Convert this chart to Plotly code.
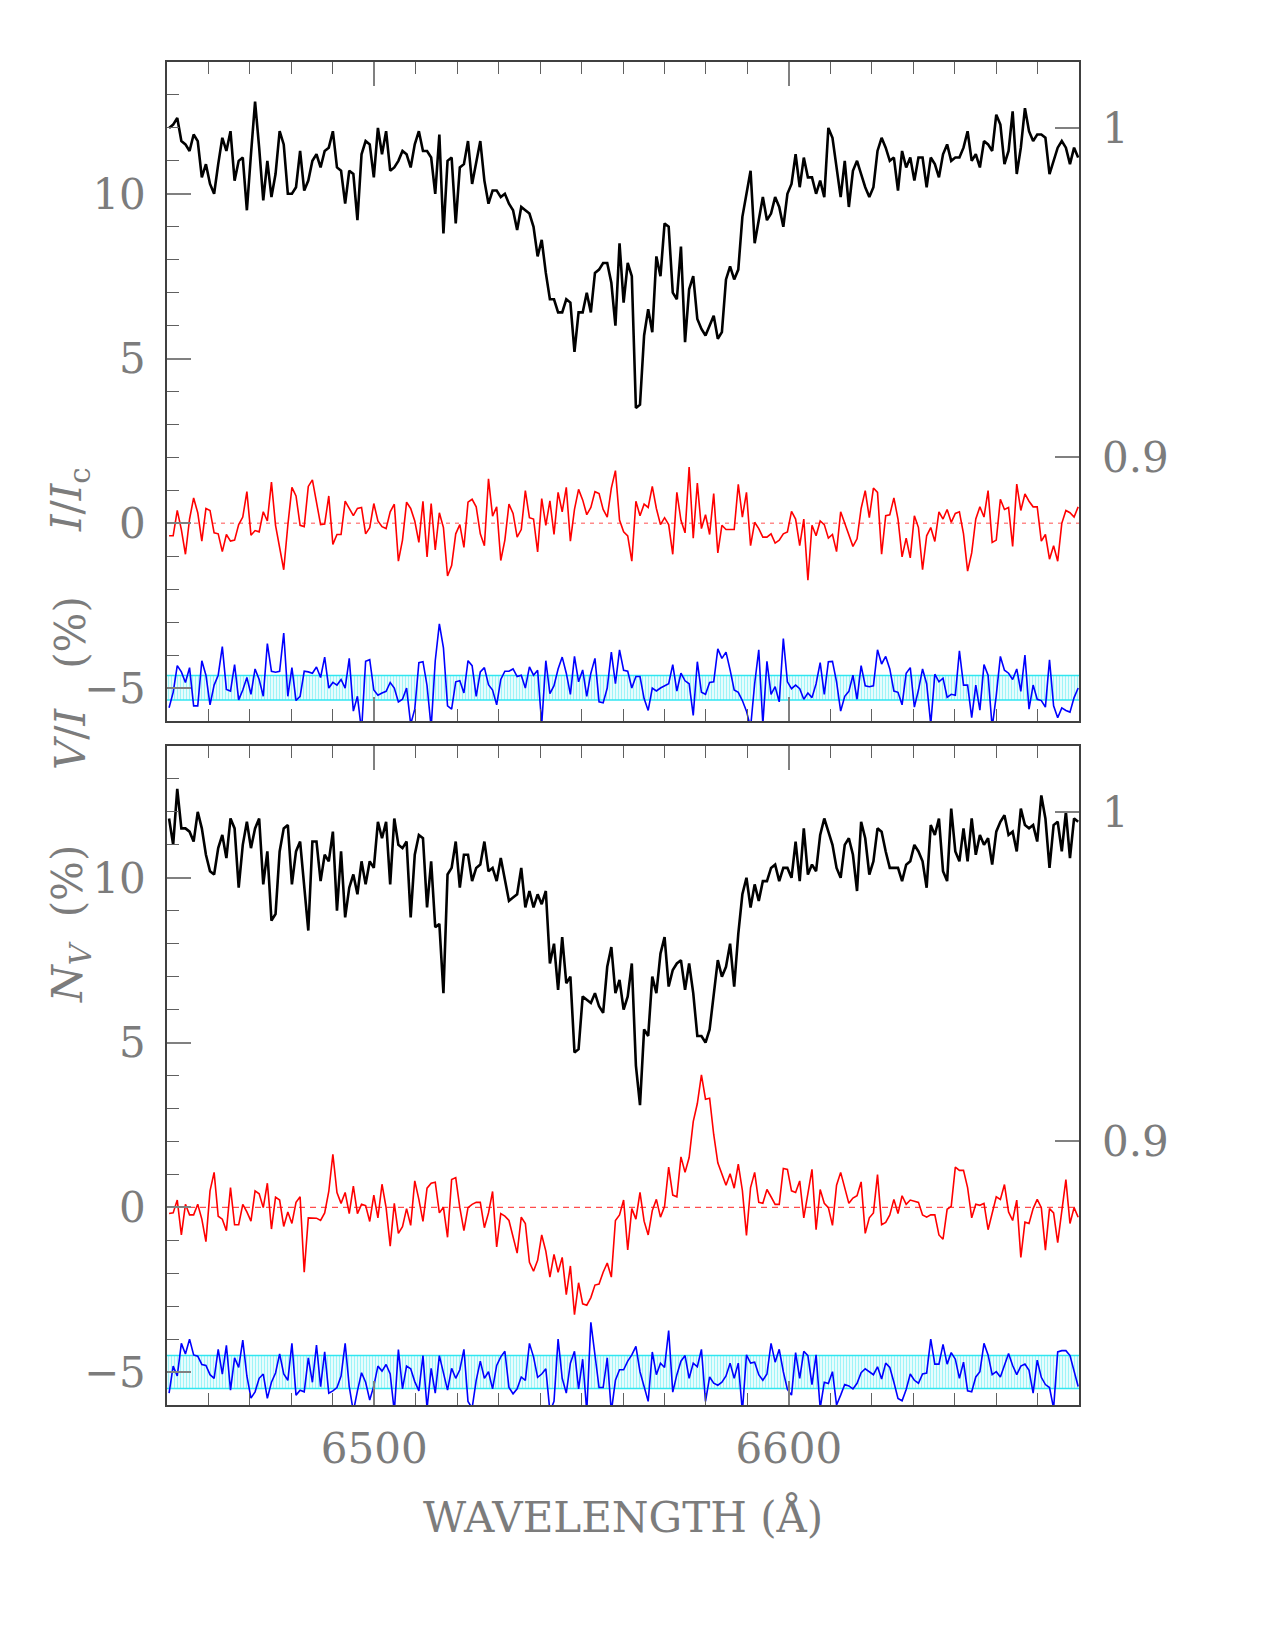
import numpy as np
import plotly.graph_objects as go

# ---------------- data ----------------
N_PIX = 223
WAVE = np.linspace(6450.5, 6669.8, N_PIX)          # wavelength grid (Angstrom)
X_RANGE = [6450, 6670]
BAND_X = [6450, 6670]

# Top panel (observation 1)
I_IC_TOP = [
    1.000, 1.001, 1.003, 0.996, 0.995, 0.993, 0.998, 0.996, 0.985, 0.989,
    0.983, 0.980, 0.989, 0.997, 0.993, 0.999, 0.984, 0.990, 0.991, 0.975,
    0.992, 1.008, 0.994, 0.978, 0.990, 0.979, 0.986, 0.999, 0.995, 0.980,
    0.980, 0.982, 0.993, 0.981, 0.984, 0.990, 0.992, 0.988, 0.993, 0.994,
    0.999, 0.988, 0.987, 0.977, 0.987, 0.986, 0.972, 0.992, 0.996, 0.995,
    0.985, 1.000, 0.992, 0.999, 0.987, 0.988, 0.990, 0.993, 0.992, 0.988,
    0.995, 0.999, 0.993, 0.993, 0.991, 0.980, 0.998, 0.968, 0.990, 0.991,
    0.971, 0.988, 0.989, 0.996, 0.983, 0.990, 0.996, 0.984, 0.977, 0.981,
    0.981, 0.979, 0.980, 0.977, 0.975, 0.969, 0.976, 0.975, 0.974, 0.970,
    0.961, 0.966, 0.956, 0.948, 0.948, 0.944, 0.944, 0.948, 0.947, 0.932,
    0.944, 0.944, 0.950, 0.944, 0.956, 0.957, 0.959, 0.959, 0.953, 0.940,
    0.965, 0.947, 0.959, 0.955, 0.915, 0.916, 0.937, 0.945, 0.938, 0.961,
    0.955, 0.971, 0.970, 0.950, 0.948, 0.964, 0.935, 0.951, 0.955, 0.942,
    0.939, 0.937, 0.940, 0.943, 0.936, 0.938, 0.954, 0.958, 0.954, 0.957,
    0.973, 0.980, 0.987, 0.965, 0.972, 0.979, 0.972, 0.974, 0.979, 0.976,
    0.970, 0.980, 0.983, 0.992, 0.982, 0.991, 0.985, 0.985, 0.980, 0.984,
    0.979, 1.000, 0.997, 0.988, 0.979, 0.990, 0.976, 0.987, 0.990, 0.986,
    0.982, 0.979, 0.982, 0.993, 0.997, 0.994, 0.990, 0.991, 0.981, 0.993,
    0.988, 0.991, 0.984, 0.991, 0.991, 0.982, 0.991, 0.989, 0.985, 0.992,
    0.995, 0.990, 0.991, 0.991, 0.994, 0.999, 0.990, 0.992, 0.988, 0.996,
    0.995, 0.993, 1.004, 1.001, 0.989, 0.993, 1.005, 0.986, 0.994, 1.006,
    0.999, 0.996, 0.998, 0.998, 0.997, 0.986, 0.990, 0.994, 0.996, 0.994,
    0.989, 0.994, 0.991,
]
V_TOP = [
    -0.38, -0.38, 0.39, -0.19, -0.94, 0.13, 0.77, 0.32, -0.54, 0.45,
    0.39, -0.29, -0.32, -0.86, -0.34, -0.54, -0.51, -0.04, 0.19, 0.96,
    -0.36, -0.22, -0.26, 0.35, 0.07, 1.25, -0.06, -0.70, -1.41, -0.06,
    1.09, 0.83, -0.06, -0.10, 1.12, 1.32, 0.58, -0.04, -0.02, 0.83,
    -0.64, -0.34, -0.34, 0.67, 0.45, 0.23, 0.45, 0.48, -0.32, -0.13,
    0.60, 0.07, -0.10, -0.16, 0.35, 0.58, -1.15, -0.51, 0.64, 0.45,
    0.07, -0.58, 0.67, -1.02, 0.60, -0.81, 0.32, -0.13, -1.60, -1.28,
    -0.32, -0.04, -0.73, 0.64, 0.73, 0.50, -0.32, -0.68, 1.35, 0.22,
    0.50, -1.13, -0.51, 0.58, 0.30, -0.42, -0.19, 0.99, 0.17, 0.13,
    -0.87, 0.75, -0.06, 0.68, -0.34, 0.94, 0.35, 1.09, -0.54, 0.42,
    1.03, 0.71, 0.26, 0.48, 0.96, 0.90, 0.42, 0.19, 1.07, 1.60,
    0.10, -0.26, -0.38, -1.15, 0.67, 0.23, 0.58, 0.48, 1.12, 0.45,
    -0.04, 0.17, -0.04, -0.94, 0.94, 0.09, -0.29, 1.71, -0.45, 1.22,
    -0.16, 0.26, -0.34, 0.90, -0.90, -0.06, -0.19, -0.19, -0.19, 1.18,
    0.19, 0.94, -0.68, 0.03, -0.16, -0.42, -0.42, -0.32, -0.60, -0.51,
    -0.32, -0.26, 0.36, 0.13, -0.68, 0.13, -1.73, -0.06, -0.38, 0.07,
    -0.04, -0.45, -0.34, -0.86, 0.35, 0.00, -0.36, -0.70, -0.47, 0.45,
    0.99, 0.17, 1.07, 0.94, -0.94, 0.23, 0.26, 0.77, 0.13, -1.02,
    -0.45, -1.05, 0.23, -0.13, -1.41, -0.38, -0.13, -0.55, 0.35, 0.13,
    0.42, 0.03, 0.30, 0.35, -0.32, -1.45, -0.90, 0.13, 0.50, 0.19,
    0.99, -0.58, -0.51, 0.73, 0.42, 0.48, -0.70, 1.19, 0.39, 0.89,
    0.67, 0.50, 0.50, -0.54, -0.34, -1.09, -0.68, -1.15, 0.00, 0.39,
    0.32, 0.19, 0.50,
]
N_TOP = [
    -5.60, -5.13, -4.32, -4.51, -4.83, -4.38, -5.54, -5.54, -4.17, -4.61,
    -5.51, -4.91, -4.61, -3.74, -5.04, -5.09, -4.29, -5.36, -5.06, -4.68,
    -5.19, -4.42, -4.74, -5.25, -3.65, -4.49, -4.52, -4.49, -3.33, -5.25,
    -4.38, -5.38, -5.25, -4.49, -4.51, -4.55, -4.36, -4.68, -4.06, -5.00,
    -4.83, -4.91, -4.74, -5.00, -4.10, -5.70, -5.25, -6.30, -4.19, -4.14,
    -5.06, -5.22, -5.15, -5.10, -4.83, -5.00, -5.42, -5.34, -5.00, -6.10,
    -5.64, -4.23, -4.20, -4.93, -6.20, -4.17, -3.05, -3.78, -5.54, -5.64,
    -4.81, -4.78, -5.15, -4.17, -4.32, -5.25, -4.51, -4.38, -4.90, -5.06,
    -5.51, -4.74, -4.49, -4.49, -4.42, -4.65, -4.61, -5.00, -4.36, -4.61,
    -4.46, -6.10, -4.17, -5.17, -4.93, -4.42, -4.06, -4.55, -5.19, -4.04,
    -4.81, -4.45, -5.25, -4.55, -4.10, -5.42, -5.45, -5.00, -3.91, -4.87,
    -3.84, -4.46, -4.49, -5.00, -4.65, -4.65, -5.32, -5.68, -5.00, -5.09,
    -5.00, -4.93, -4.87, -4.29, -5.09, -4.55, -4.78, -4.87, -5.83, -4.20,
    -5.13, -5.19, -4.83, -4.81, -3.81, -4.10, -3.91, -4.45, -5.06, -5.13,
    -5.38, -5.70, -6.20, -4.87, -3.84, -6.10, -4.19, -5.19, -4.96, -5.42,
    -3.50, -4.81, -5.02, -4.91, -5.02, -5.34, -5.15, -5.29, -4.87, -4.23,
    -5.19, -4.20, -4.19, -4.81, -5.70, -5.25, -5.10, -4.61, -5.34, -4.32,
    -4.93, -4.96, -4.93, -3.84, -4.27, -4.04, -4.42, -5.09, -5.13, -5.51,
    -4.55, -4.38, -5.58, -5.06, -4.42, -4.87, -6.10, -4.58, -4.81, -4.70,
    -5.28, -5.19, -5.22, -3.87, -4.91, -4.91, -5.90, -4.91, -5.67, -4.29,
    -4.61, -6.20, -5.22, -4.04, -4.46, -4.55, -4.74, -4.42, -5.10, -4.00,
    -5.64, -4.91, -5.34, -5.38, -5.58, -4.14, -5.54, -5.90, -5.60, -5.68,
    -5.73, -5.29, -5.00,
]

# Bottom panel (observation 2)
I_IC_BOT = [
    0.998, 0.990, 1.007, 0.995, 0.995, 0.994, 0.991, 1.000, 0.995, 0.987,
    0.982, 0.981, 0.989, 0.993, 0.986, 0.998, 0.995, 0.977, 0.990, 0.997,
    0.989, 0.995, 0.998, 0.978, 0.988, 0.967, 0.969, 0.988, 0.995, 0.996,
    0.978, 0.988, 0.991, 0.977, 0.964, 0.991, 0.991, 0.979, 0.987, 0.985,
    0.994, 0.970, 0.988, 0.968, 0.977, 0.981, 0.975, 0.985, 0.978, 0.985,
    0.983, 0.997, 0.992, 0.997, 0.978, 0.998, 0.990, 0.989, 0.991, 0.968,
    0.987, 0.993, 0.992, 0.971, 0.985, 0.965, 0.966, 0.945, 0.981, 0.983,
    0.991, 0.977, 0.987, 0.987, 0.979, 0.983, 0.984, 0.991, 0.982, 0.983,
    0.979, 0.986, 0.979, 0.973, 0.974, 0.975, 0.983, 0.971, 0.976, 0.971,
    0.975, 0.972, 0.976, 0.954, 0.960, 0.946, 0.962, 0.948, 0.950, 0.927,
    0.928, 0.944, 0.943, 0.942, 0.945, 0.941, 0.939, 0.953, 0.959, 0.945,
    0.949, 0.940, 0.944, 0.954, 0.923, 0.911, 0.934, 0.932, 0.950, 0.945,
    0.957, 0.962, 0.947, 0.952, 0.954, 0.955, 0.946, 0.954, 0.945, 0.932,
    0.932, 0.930, 0.934, 0.945, 0.955, 0.950, 0.953, 0.960, 0.947, 0.963,
    0.975, 0.980, 0.971, 0.978, 0.973, 0.979, 0.979, 0.983, 0.984, 0.979,
    0.983, 0.983, 0.980, 0.991, 0.979, 0.995, 0.981, 0.984, 0.982, 0.993,
    0.998, 0.994, 0.990, 0.983, 0.980, 0.990, 0.992, 0.987, 0.976, 0.997,
    0.992, 0.981, 0.985, 0.995, 0.994, 0.988, 0.983, 0.983, 0.983, 0.979,
    0.984, 0.985, 0.990, 0.988, 0.985, 0.977, 0.996, 0.993, 0.998, 0.982,
    0.979, 1.001, 0.988, 0.985, 0.995, 0.985, 0.998, 0.987, 0.993, 0.990,
    0.992, 0.984, 0.994, 0.997, 0.999, 0.993, 0.994, 0.988, 1.001, 0.996,
    0.995, 0.996, 0.991, 1.005, 0.998, 0.983, 0.996, 0.997, 0.988, 1.000,
    0.986, 0.998, 0.997,
]
V_BOT = [
    -0.19, -0.17, 0.22, -0.84, 0.09, -0.23, -0.23, 0.09, -0.36, -1.04,
    0.50, 1.06, -0.27, -0.36, -0.71, 0.60, -0.53, -0.53, 0.09, -0.14,
    -0.42, 0.50, 0.41, -0.01, 0.73, -0.66, 0.31, 0.22, -0.58, -0.14,
    -0.49, 0.15, 0.32, -1.97, -0.32, -0.33, -0.33, -0.40, -0.17, 0.48,
    1.61, 0.45, 0.12, 0.45, -0.19, 0.64, -0.19, 0.09, 0.05, -0.43,
    0.37, -0.32, 0.70, -0.01, -1.18, 0.12, -0.79, -0.59, -0.04, -0.55,
    0.80, 0.24, -0.43, 0.58, 0.73, 0.76, -0.17, 0.00, -0.91, 0.84,
    0.90, -0.01, -0.71, -0.01, 0.09, 0.15, 0.15, -0.62, -0.17, 0.48,
    -1.20, -0.19, -0.27, -0.40, -0.88, -1.39, -0.30, -0.49, -1.67, -1.94,
    -1.61, -0.84, -1.33, -2.12, -1.43, -1.97, -1.52, -2.65, -1.78, -3.26,
    -2.29, -2.93, -2.97, -2.74, -2.36, -2.33, -1.97, -1.69, -2.12, -0.40,
    -0.23, 0.22, -1.29, -0.04, -0.36, 0.45, -0.42, -0.84, -0.10, 0.24,
    -0.30, 0.03, 1.22, 0.37, 0.32, 1.53, 1.06, 1.51, 2.60, 3.15,
    4.02, 3.28, 3.31, 2.21, 1.35, 0.99, 0.67, 1.02, 0.58, 1.31,
    0.51, -0.85, 0.60, 1.06, 0.15, 0.12, 0.54, 0.32, 0.09, 0.09,
    1.18, 1.15, 0.50, 0.45, 0.80, -0.32, 0.45, 1.15, -0.68, 0.54,
    0.12, -0.01, -0.55, 0.67, 1.06, 0.63, 0.12, 0.28, 0.35, 0.77,
    -0.79, -0.32, -0.17, 0.99, -0.53, -0.46, -0.23, 0.24, -0.19, 0.35,
    0.09, 0.22, 0.19, 0.15, -0.23, -0.30, -0.23, -0.23, -0.84, -0.97,
    -0.06, 0.03, 1.22, 1.12, 1.12, 0.60, -0.32, 0.09, 0.06, 0.12,
    -0.68, -0.17, 0.32, 0.24, 0.69, -0.14, -0.40, 0.22, -1.52, -0.45,
    -0.49, -0.04, 0.24, -0.01, -1.30, -0.04, -0.17, -1.07, -0.04, 0.84,
    -0.49, -0.01, -0.30,
]
N_BOT = [
    -5.64, -4.82, -5.12, -4.13, -4.45, -4.00, -4.48, -4.52, -4.77, -4.80,
    -5.08, -5.19, -4.31, -5.06, -4.19, -5.55, -4.57, -4.86, -4.03, -5.12,
    -5.79, -5.60, -5.19, -5.06, -5.80, -5.31, -5.03, -4.45, -5.06, -5.25,
    -4.13, -5.70, -5.55, -5.60, -4.57, -5.31, -4.18, -5.44, -4.39, -5.64,
    -5.57, -5.47, -5.12, -4.13, -5.44, -6.20, -5.57, -5.02, -5.31, -5.85,
    -5.42, -4.82, -4.97, -4.77, -5.06, -6.20, -4.32, -5.51, -4.82, -4.90,
    -5.29, -5.57, -4.50, -6.10, -4.89, -5.64, -4.50, -5.06, -5.55, -4.89,
    -5.19, -4.93, -4.31, -5.89, -6.10, -5.25, -4.67, -5.19, -4.99, -5.51,
    -4.80, -4.54, -4.37, -5.47, -5.66, -5.51, -5.15, -5.25, -4.13, -4.54,
    -5.16, -5.06, -4.90, -6.20, -5.89, -4.00, -5.19, -5.64, -4.73, -4.37,
    -5.51, -4.61, -6.20, -3.49, -4.54, -5.47, -5.47, -4.57, -6.20, -5.25,
    -4.93, -4.93, -4.67, -4.48, -4.22, -4.99, -5.44, -5.89, -4.39, -5.08,
    -4.73, -4.86, -3.74, -5.61, -5.08, -4.67, -4.50, -5.19, -4.73, -4.84,
    -4.31, -5.89, -5.15, -5.34, -5.40, -5.31, -5.12, -4.73, -5.19, -4.73,
    -6.20, -4.48, -4.73, -4.70, -5.08, -5.25, -5.06, -4.13, -4.70, -4.31,
    -4.99, -5.53, -5.70, -4.41, -5.19, -4.37, -4.50, -5.38, -4.48, -6.10,
    -5.31, -5.35, -4.99, -6.00, -5.70, -5.38, -5.42, -5.51, -5.34, -5.02,
    -4.90, -4.99, -5.08, -4.84, -5.21, -4.73, -4.86, -5.31, -5.80, -5.87,
    -5.53, -5.06, -5.25, -5.34, -5.06, -5.03, -4.00, -4.76, -4.76, -4.16,
    -4.76, -4.41, -4.61, -5.19, -4.70, -5.57, -5.60, -5.15, -4.99, -4.13,
    -4.48, -5.08, -4.99, -5.15, -4.80, -4.44, -4.80, -5.08, -4.82, -4.76,
    -4.95, -5.64, -4.64, -5.16, -5.38, -5.47, -6.10, -4.39, -4.35, -4.35,
    -4.50, -4.95, -5.44,
]

# error bands drawn around the null spectrum (offset -5)
BAND_TOP_PANEL = [-5.36, -4.62]
BAND_BOT_PANEL = [-5.50, -4.50]

for arr in (I_IC_TOP, V_TOP, N_TOP, I_IC_BOT, V_BOT, N_BOT):
    assert len(arr) == N_PIX, len(arr)

# ---------------- styling ----------------
W, H = 1275, 1650
PX_L, PX_R = 167, 1079
TOP_T, TOP_B = 62, 721
BOT_T, BOT_B = 746, 1405

FONT = "DejaVu Serif"
TXT = "#7c7c7c"
AX = "#404040"
TICK = "#808080"
FS = 42

def px_x(p):
    return p / W

def px_y(p):
    return 1 - p / H

fig = go.Figure()

def add_panel(xref, yref, y2ref, iic, v, n, band):
    lo, hi = band
    fig.add_trace(go.Scatter(x=BAND_X, y=[hi, hi], xaxis=xref, yaxis=yref, mode="lines",
                             line=dict(color="#30e6f0", width=1.5), hoverinfo="skip", showlegend=False))
    fig.add_trace(go.Scatter(x=BAND_X, y=[lo, lo], xaxis=xref, yaxis=yref, mode="lines",
                             line=dict(color="#30e6f0", width=1.5), fill="tonexty",
                             fillcolor="rgba(0,0,0,0)",
                             fillpattern=dict(shape="|", fgcolor="#40eaf2", bgcolor="rgba(255,255,255,0)",
                                              size=3, solidity=0.5),
                             hoverinfo="skip", showlegend=False))
    fig.add_trace(go.Scatter(x=WAVE, y=v, xaxis=xref, yaxis=yref, mode="lines",
                             line=dict(color="#ff0000", width=1.6), showlegend=False))
    fig.add_trace(go.Scatter(x=WAVE, y=n, xaxis=xref, yaxis=yref, mode="lines",
                             line=dict(color="#0000ff", width=1.6), showlegend=False))
    fig.add_trace(go.Scatter(x=WAVE, y=iic, xaxis=xref, yaxis=y2ref, mode="lines",
                             line=dict(color="#000000", width=2.6), showlegend=False))

add_panel("x", "y", "y2", I_IC_TOP, V_TOP, N_TOP, BAND_TOP_PANEL)
add_panel("x2", "y3", "y4", I_IC_BOT, V_BOT, N_BOT, BAND_BOT_PANEL)

# zero reference lines
fig.add_shape(type="line", xref="x", yref="y", x0=X_RANGE[0], x1=X_RANGE[1], y0=0, y1=0,
              line=dict(color="rgba(255,60,60,0.6)", width=1.5, dash="4px,5px"), layer="below")
fig.add_shape(type="line", xref="x2", yref="y3", x0=X_RANGE[0], x1=X_RANGE[1], y0=0, y1=0,
              line=dict(color="#ff2020", width=1, dash="6px,5px"), layer="below")

tickfont = dict(family=FONT, size=FS, color=TXT)

def xaxis_cfg(domain_y_anchor, labels):
    return dict(
        domain=[px_x(PX_L), px_x(PX_R)], anchor=domain_y_anchor, range=X_RANGE,
        showline=True, linecolor=AX, linewidth=1.5, mirror="ticks",
        ticks="inside", ticklen=24, tickwidth=1.5, tickcolor=TICK,
        tick0=6500, dtick=100,
        minor=dict(ticks="inside", ticklen=12, tickwidth=1.2, tickcolor="#606060", dtick=10, tick0=6450),
        showgrid=False, zeroline=False, showticklabels=labels,
        tickfont=tickfont, ticklabelstandoff=6,
    )

def yaxis_cfg(top, bot, xanchor):
    return dict(
        domain=[px_y(bot), px_y(top)], anchor=xanchor, range=[-6, 14],
        showline=True, linecolor=AX, linewidth=1.5, mirror=True,
        ticks="inside", ticklen=24, tickwidth=1.5, tickcolor=TICK,
        tick0=0, dtick=5,
        minor=dict(ticks="inside", ticklen=12, tickwidth=1.2, tickcolor="#606060", dtick=1),
        showgrid=False, zeroline=False, tickfont=tickfont, ticklabelstandoff=11,
    )

def yaxis_right_cfg(overlay, xanchor):
    return dict(
        overlaying=overlay, anchor=xanchor, side="right", range=[0.82, 1.02],
        tickvals=[0.9, 1.0], ticktext=["0.9", "1"],
        ticks="inside", ticklen=24, tickwidth=1.5, tickcolor=TICK,
        showline=False, showgrid=False, zeroline=False, tickfont=tickfont, ticklabelstandoff=22,
    )

fig.update_layout(
    width=W, height=H, margin=dict(l=0, r=0, t=0, b=0),
    paper_bgcolor="white", plot_bgcolor="white", showlegend=False,
    xaxis=xaxis_cfg("y", False),
    yaxis=yaxis_cfg(TOP_T, TOP_B, "x"),
    yaxis2=yaxis_right_cfg("y", "x"),
    xaxis2=xaxis_cfg("y3", True),
    yaxis3=yaxis_cfg(BOT_T, BOT_B, "x2"),
    yaxis4=yaxis_right_cfg("y3", "x2"),
)

lab = dict(family=FONT, size=FS, color=TXT)
fig.add_annotation(text="<i>I</i>/<i>I</i><sub>c</sub>", x=px_x(70), y=px_y(500), xref="paper", yref="paper",
                   textangle=-90, showarrow=False, font=lab, xanchor="center", yanchor="middle")
fig.add_annotation(text="<i>V</i>/<i>I</i>   (%)", x=px_x(70), y=px_y(683), xref="paper", yref="paper",
                   textangle=-90, showarrow=False, font=lab, xanchor="center", yanchor="middle")
fig.add_annotation(text="<i>N</i><sub><i>V</i></sub>  (%)", x=px_x(70), y=px_y(924), xref="paper", yref="paper",
                   textangle=-90, showarrow=False, font=lab, xanchor="center", yanchor="middle")
fig.add_annotation(text="WAVELENGTH (Å)", x=px_x(623), y=px_y(1517), xref="paper", yref="paper",
                   showarrow=False, font=lab, xanchor="center", yanchor="middle")

fig.write_html("out.html")
